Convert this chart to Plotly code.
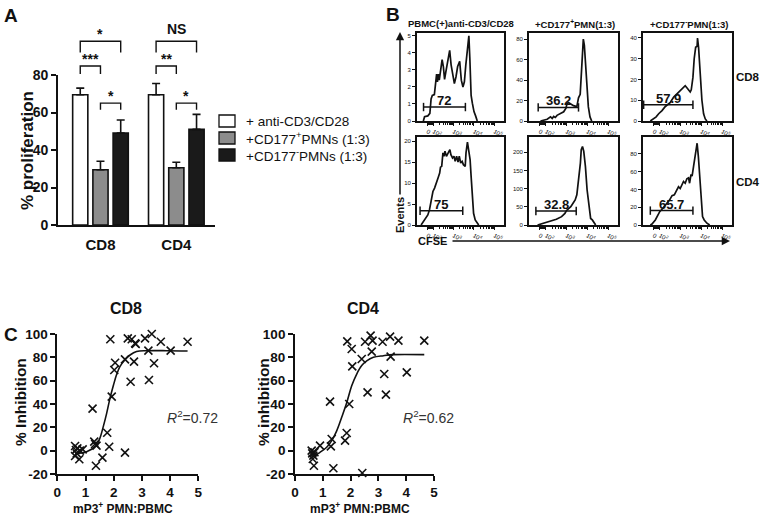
import math
import plotly.graph_objects as go

W, H = 762, 519
FONT = "Liberation Sans, Arial, Helvetica, sans-serif"


def fx(px):
    return px / W


def fy(py):
    return 1 - py / H


# ---------------- Panel A data ----------------
a_groups = ["CD8", "CD4"]
a_series = ["+ anti-CD3/CD28", "+CD177<sup>+</sup>PMNs (1:3)", "+CD177<sup>-</sup>PMNs (1:3)"]
a_colors = ["#ffffff", "#8c8c8c", "#1a1a1a"]
a_ctrl_mean = [69.5, 69.5]
a_ctrl_sem = [3.5, 6.0]
a_pos_mean = [29.5, 30.5]
a_pos_sem = [4.5, 3.0]
a_neg_mean = [49.0, 51.0]
a_neg_sem = [7.0, 8.0]
a_sig_ctrl_neg = ["*", "NS"]
a_sig_ctrl_pos = ["***", "**"]
a_sig_pos_neg = ["*", "*"]
a_yticks = [0, 20, 40, 60, 80]

# ---------------- Panel B data (CFSE histograms) ----------------
b_col_titles = ["PBMC(+)anti-CD3/CD28", "+CD177<sup>+</sup>PMN(1:3)", "+CD177<sup>-</sup>PMN(1:3)"]
b_row_titles = ["CD8", "CD4"]
b_xtick_vals = [1.72, 2.02, 3, 4, 5]
b_xtick_text = ["0", "10<sup>2</sup>", "10<sup>3</sup>", "10<sup>4</sup>", "10<sup>5</sup>"]

cd8_pbmc_x = [1.52, 1.58, 1.74, 1.84, 1.90, 1.96, 2.06, 2.12, 2.17, 2.21, 2.26, 2.30, 2.35, 2.44, 2.50, 2.56,
              2.64, 2.72, 2.81, 2.88, 2.96, 3.04, 3.12, 3.20, 3.30, 3.38, 3.46, 3.53, 3.60, 3.68, 3.75, 3.80,
              3.86, 3.92, 4.00, 4.08, 4.16]
cd8_pbmc_y = [0, 0.25, 0.3, 0.45, 1.3, 1.5, 1.55, 2.1, 2.75, 2.3, 2.75, 2.4, 2.9, 3.6, 3.2, 2.45,
              3.0, 3.6, 4.15, 3.3, 2.7, 2.2, 2.6, 3.2, 3.5, 2.4, 2.0, 2.3, 3.3, 4.3, 5.0, 3.6,
              1.5, 1.05, 0.55, 0.3, 0]
cd8_pos_x = [1.76, 2.08, 2.24, 2.32, 2.39, 2.47, 2.55, 2.71, 2.87, 2.98, 3.03, 3.10, 3.18, 3.34, 3.50, 3.58,
             3.66, 3.71, 3.75, 3.81, 3.86, 3.93, 3.97, 4.05, 4.13, 4.21]
cd8_pos_y = [0, 1.7, 4, 2.5, 4.5, 3.5, 5.5, 7, 9, 12.6, 17, 18, 17, 15, 14, 22.6,
             26, 41, 61, 80, 74, 51, 34, 14, 4, 0]
cd8_neg_x = [1.56, 1.72, 1.84, 1.96, 2.12, 2.28, 2.52, 2.68, 2.84, 2.99, 3.15, 3.23, 3.31, 3.39, 3.47, 3.52,
             3.60, 3.66, 3.73, 3.80, 3.82, 3.87, 3.95, 4.03, 4.11, 4.19, 4.27]
cd8_neg_y = [0, 1.1, 2, 3.5, 5, 7, 9, 11.5, 13, 14.7, 16, 17, 16, 15, 14, 15,
             21, 30, 35.5, 36, 40, 35.5, 21, 10, 3.5, 1, 0]
cd4_pbmc_x = [1.41, 1.57, 1.66, 1.74, 1.82, 1.90, 1.99, 2.07, 2.16, 2.24, 2.32, 2.36, 2.42, 2.48, 2.53, 2.58,
              2.65, 2.74, 2.82, 2.87, 2.95, 3.02, 3.08, 3.15, 3.22, 3.28, 3.35, 3.42, 3.48, 3.57, 3.61, 3.68,
              3.75, 3.81, 3.86, 3.91, 3.98, 4.06, 4.15, 4.23]
cd4_pbmc_y = [0, 1.2, 2, 2.4, 3.6, 6, 8, 8.8, 10.4, 11.2, 12.4, 13.8, 14, 17.2, 16.4, 17.6,
              16.4, 17.2, 18, 16.8, 16, 16.4, 15.2, 16.4, 15, 16.4, 14.8, 15.2, 14.4, 14, 17.2, 19.8,
              18, 15.6, 11.6, 6.8, 2.8, 1.2, 0.4, 0]
cd4_pos_x = [1.62, 1.86, 2.19, 2.52, 2.77, 2.93, 3.01, 3.13, 3.21, 3.34, 3.42, 3.50, 3.59, 3.67, 3.71, 3.77,
             3.83, 3.91, 3.99, 4.08, 4.16, 4.24, 4.32, 4.40]
cd4_pos_y = [0, 4.6, 9, 15.6, 23, 32, 40, 46, 50.6, 62, 69, 83, 124, 170, 207, 216,
             203, 161, 97, 51, 18, 14, 6, 0]
cd4_neg_x = [1.56, 1.64, 1.80, 1.91, 2.01, 2.12, 2.23, 2.36, 2.48, 2.60, 2.71, 2.80, 2.91, 2.99, 3.08, 3.15,
             3.23, 3.31, 3.39, 3.44, 3.51, 3.56, 3.63, 3.71, 3.80, 3.86, 3.92, 3.99, 4.06, 4.14, 4.27, 4.40]
cd4_neg_y = [0, 1, 5.7, 11, 15, 17.7, 20.8, 24.5, 28, 33, 34, 38, 43, 41, 45, 49,
             47, 52, 53, 47, 57, 55, 66, 81, 92, 77, 55, 24.5, 9.4, 5.7, 2, 0]

b_gate_pct = ["72", "36.2", "57.9", "75", "32.8", "65.7"]
b_gate_x0 = [1.53, 1.65, 1.24, 1.36, 1.54, 1.56]
b_gate_x1 = [3.58, 3.58, 3.60, 3.45, 3.47, 3.60]
b_gate_y = [0.82, 13.3, 7.8, 3.4, 38.7, 16.2]
b_ymax = [5.17, 86, 42.4, 21, 242, 99]
b_yticks = [[0, 1, 2, 3, 4, 5], [0, 20, 40, 60, 80], [0, 10, 20, 30, 40],
            [0, 5, 10, 15, 20], [0, 50, 100, 150, 200], [0, 20, 40, 60, 80]]

# ---------------- Panel C data ----------------
c8_x = [1.88, 2.50, 2.64, 2.76, 2.78, 3.11, 3.35, 3.67, 4.62, 3.23, 4.02, 2.05, 2.02, 2.40, 2.72, 2.60,
        3.25, 3.43, 1.93, 1.25, 1.77, 1.84, 1.31, 1.34, 1.39, 2.40, 1.60, 1.37, 0.63, 0.66, 0.69, 0.63,
        0.78, 0.90, 0.80, 0.71]
c8_y = [95.5, 96.3, 95.5, 92, 91.4, 96.3, 100, 93.4, 93.4, 85.7, 85.7, 75.4, 69.1, 78.3, 76.3, 59.1,
        60.6, 74.9, 46.3, 36, 15.4, 3.4, 7.7, 5.7, 4.3, -1.7, -6, -12.9, 4, 0.6, -2.3, -4.6,
        -7.4, 1.1, 0, 2]
c8_fit_x = [0.63, 1.04, 1.39, 1.51, 1.63, 1.75, 1.87, 1.99, 2.10, 2.22, 2.40, 2.58, 2.81, 3.17, 3.88, 4.62]
c8_fit_y = [-2.3, -0.9, 4.9, 10.6, 20.6, 32, 45, 56, 65, 72, 78, 82, 85, 85.7, 85.7, 85.4]

c4_x = [1.88, 2.04, 2.52, 2.72, 2.79, 2.76, 3.15, 3.42, 3.72, 4.65, 2.40, 2.06, 3.44, 3.21, 4.02, 2.61,
        3.27, 1.95, 1.26, 1.86, 1.80, 1.32, 1.29, 0.90, 0.60, 0.62, 0.66, 0.64, 0.68, 1.38, 2.42, 0.70]
c4_y = [93.7, 87.1, 93.4, 98.6, 94.3, 84.9, 93.4, 97.7, 94.3, 94.3, 78.6, 72.3, 80.6, 65.7, 67.1, 50,
        48, 40, 42, 15.1, 8.6, 10, 3.7, 4.3, 0, -2.3, -4.3, -7.1, -12.9, -15.1, -19.1, -1.4]
c4_fit_x = [0.6, 0.9, 1.14, 1.32, 1.5, 1.68, 1.86, 2.04, 2.22, 2.40, 2.58, 2.82, 3.18, 3.54, 4.65]
c4_fit_y = [-5.7, -1.4, 2.9, 8.6, 17, 28.6, 41, 55.7, 65.7, 72.9, 77, 80, 81.4, 82.3, 82.3]
c_r2 = ["0.72", "0.62"]
c_xticks = [0, 1, 2, 3, 4, 5]
c_yticks = [-20, 0, 20, 40, 60, 80, 100]

# ================= build figure =================
fig = go.Figure()
annotations = []
shapes = []

BLACK = "#111111"


def bold(vals):
    return [f"<b>{v}</b>" for v in vals]


def paper_text(px, py, text, size, angle=0, xanchor="center", color=BLACK):
    annotations.append(dict(x=fx(px), y=fy(py), xref="paper", yref="paper", text=text, showarrow=False,
                            xanchor=xanchor, yanchor="middle", textangle=angle,
                            font=dict(family=FONT, size=size, color=color)))


# ---- Panel A ----
BARGAP = 0.2
slot = (1 - BARGAP) / 3
offsets = [-slot, 0.0, slot]
a_x = list(range(len(a_groups)))
for name, mean, sem, color in zip(a_series,
                                  [a_ctrl_mean, a_pos_mean, a_neg_mean],
                                  [a_ctrl_sem, a_pos_sem, a_neg_sem],
                                  a_colors):
    fig.add_trace(go.Bar(
        x=a_x, y=mean, name=name, xaxis="x", yaxis="y", showlegend=False,
        marker=dict(color=color, line=dict(color=BLACK, width=1.6)),
        error_y=dict(type="data", array=sem, arrayminus=[0] * len(sem), symmetric=False,
                     color=BLACK, thickness=1.6, width=4),
        hoverinfo="skip"))

# significance brackets (y2 shares the same scale as y, extended upward)
bracket_specs = [  # (from bar idx, to bar idx, top, leg, labels)
    (0, 2, 98.0, 92.0, a_sig_ctrl_neg),
    (0, 1, 84.8, 80.5, a_sig_ctrl_pos),
    (1, 2, 65.0, 61.5, a_sig_pos_neg),
]
for gi, g in enumerate(a_x):
    for i0, i1, top, leg, labels in bracket_specs:
        x0 = g + offsets[i0]
        x1 = g + offsets[i1]
        fig.add_trace(go.Scatter(x=[x0, x0, x1, x1], y=[leg, top, top, leg], mode="lines",
                                 line=dict(color=BLACK, width=1.4), xaxis="x", yaxis="y2",
                                 showlegend=False, hoverinfo="skip"))
        lab = labels[gi]
        annotations.append(dict(x=(x0 + x1) / 2, y=top, xref="x", yref="y2", text=f"<b>{lab}</b>",
                                showarrow=False, xanchor="center", yanchor="bottom",
                                yshift=(-3 if "*" in lab else 2),
                                font=dict(family=FONT, size=14, color=BLACK)))

# custom legend for panel A
for idx, (name, color) in enumerate(zip(a_series, a_colors)):
    cy = 121 + 17 * idx
    shapes.append(dict(type="rect", xref="paper", yref="paper", x0=fx(219), x1=fx(235),
                       y0=fy(cy + 6), y1=fy(cy - 6), fillcolor=color, line=dict(color=BLACK, width=1.3)))
    paper_text(244, cy, name, 13.5, xanchor="left")

# ---- Panel B ----
b_cols_px = [(417, 504), (529, 618), (643, 732)]
b_rows_py = [(33, 121), (137, 225)]
b_curves = [(cd8_pbmc_x, cd8_pbmc_y), (cd8_pos_x, cd8_pos_y), (cd8_neg_x, cd8_neg_y),
            (cd4_pbmc_x, cd4_pbmc_y), (cd4_pos_x, cd4_pos_y), (cd4_neg_x, cd4_neg_y)]
minor_vals = []
for k in range(2, 10):
    minor_vals.append(2.02 + (3 - 2.02) * math.log10(k))
    minor_vals.append(3 + math.log10(k))
    minor_vals.append(4 + math.log10(k))
    minor_vals.append(1.72 + (2.02 - 1.72) * (k - 1) / 9)

axes_layout = {}
for i in range(6):
    r, c = divmod(i, 3)
    k = 3 + i
    xa, ya = f"x{k}", f"y{k}"
    cx, cy = b_curves[i]
    fig.add_trace(go.Scatter(x=cx, y=cy, mode="lines", line=dict(color=BLACK, width=1.7),
                             xaxis=xa, yaxis=ya, showlegend=False, hoverinfo="skip"))
    fig.add_trace(go.Scatter(x=[b_gate_x0[i], b_gate_x1[i]], y=[b_gate_y[i], b_gate_y[i]],
                             mode="lines+markers", line=dict(color=BLACK, width=1.5),
                             marker=dict(symbol="line-ns", size=6, line=dict(color=BLACK, width=1.5)),
                             xaxis=xa, yaxis=ya, showlegend=False, hoverinfo="skip"))
    annotations.append(dict(x=(b_gate_x0[i] + b_gate_x1[i]) / 2, y=b_gate_y[i], xref=xa, yref=ya,
                            text=f"<b>{b_gate_pct[i]}</b>", showarrow=False, xanchor="center",
                            yanchor="bottom", yshift=-3,
                            font=dict(family=FONT, size=13, color=BLACK)))
    l, rr = b_cols_px[c]
    t, b = b_rows_py[r]
    axes_layout[f"xaxis{k}"] = dict(
        domain=[fx(l), fx(rr)], anchor=ya, range=[1.21, 5.47], showline=True, mirror=True,
        automargin=False,
        linecolor=BLACK, linewidth=1.8, showgrid=False, zeroline=False, ticks="outside", ticklen=3,
        tickwidth=1, tickcolor=BLACK, tickvals=b_xtick_vals, ticktext=b_xtick_text,
        tickfont=dict(family=FONT, size=6, color=BLACK),
        minor=dict(tickvals=minor_vals, ticks="outside", ticklen=2, tickwidth=0.8, tickcolor=BLACK))
    axes_layout[f"yaxis{k}"] = dict(
        domain=[fy(b), fy(t)], anchor=xa, range=[0, b_ymax[i]], showline=True, mirror=True,
        automargin=False,
        linecolor=BLACK, linewidth=1.8, showgrid=False, zeroline=False, ticks="outside", ticklen=3,
        tickwidth=1, tickcolor=BLACK, tickvals=b_yticks[i],
        tickfont=dict(family=FONT, size=6, color=BLACK))

col_centers = [461, 575, 689]
for cc, title in zip(col_centers, b_col_titles):
    paper_text(cc, 24, f"<b>{title}</b>", 9.5)
for py, title in zip([77, 182], b_row_titles):
    paper_text(748, py, f"<b>{title}</b>", 11.5)
annotations.append(dict(x=fx(400), y=fy(32), ax=0, ay=196 - 32, xref="paper", yref="paper",
                        showarrow=True, arrowhead=2, arrowsize=1.1,
                        arrowwidth=1.5, arrowcolor=BLACK, text=""))
annotations.append(dict(x=fx(730), y=fy(241), ax=-(730 - 451), ay=0, xref="paper", yref="paper",
                        showarrow=True, arrowhead=2, arrowsize=1.1,
                        arrowwidth=1.5, arrowcolor=BLACK, text=""))
paper_text(400, 215, "<b>Events</b>", 11, angle=-90)
paper_text(432, 241, "<b>CFSE</b>", 11)

# ---- Panel C ----
c_sets = [(c8_x, c8_y, c8_fit_x, c8_fit_y), (c4_x, c4_y, c4_fit_x, c4_fit_y)]
c_x_px = [(57.3, 198.3), (295, 434)]
c_titles = ["CD8", "CD4"]
c_ytitles = ["% Inhibition", "% inhibition"]
c_ytitle_px = [20, 263]
c_r2_pos = [(4.78, 29), (4.8, 29)]
for j in range(2):
    k = 9 + j
    xa, ya = f"x{k}", f"y{k}"
    px_, py_, fx_, fy_ = c_sets[j]
    fig.add_trace(go.Scatter(x=fx_, y=fy_, mode="lines", line=dict(color=BLACK, width=1.6, shape="spline"),
                             xaxis=xa, yaxis=ya, showlegend=False, hoverinfo="skip"))
    fig.add_trace(go.Scatter(x=px_, y=py_, mode="markers", cliponaxis=False,
                             marker=dict(symbol="x-thin", size=8, color=BLACK, line=dict(color=BLACK, width=1.6)),
                             xaxis=xa, yaxis=ya, showlegend=False, hoverinfo="skip"))
    l, rr = c_x_px[j]
    axes_layout[f"xaxis{k}"] = dict(
        domain=[fx(l), fx(rr)], anchor=ya, range=[0, 5], showline=True, linecolor=BLACK, linewidth=1.8,
        automargin=False,
        showgrid=False, zeroline=False, ticks="outside", ticklen=5, tickwidth=1.8, tickcolor=BLACK,
        tickvals=c_xticks, ticktext=bold(c_xticks), tickfont=dict(family=FONT, size=13.5, color=BLACK))
    axes_layout[f"yaxis{k}"] = dict(
        domain=[fy(474), fy(334)], anchor=xa, range=[-20, 100], showline=True, linecolor=BLACK,
        automargin=False,
        linewidth=1.8, showgrid=False, zeroline=False, ticks="outside", ticklen=5, tickwidth=1.8,
        tickcolor=BLACK, tickvals=c_yticks, ticktext=bold(c_yticks),
        tickfont=dict(family=FONT, size=13.5, color=BLACK))
    cxm = (l + rr) / 2
    paper_text(cxm - 2, 308, f"<b>{c_titles[j]}</b>", 16)
    paper_text(c_ytitle_px[j], 402, f"<b>{c_ytitles[j]}</b>", 15.5, angle=-90)
    paper_text(cxm - 5, 508, "<b>mP3<sup>+</sup> PMN:PBMC</b>", 12)
    annotations.append(dict(x=c_r2_pos[j][0], y=c_r2_pos[j][1], xref=xa, yref=ya,
                            text=f"<i>R</i><sup>2</sup>={c_r2[j]}",
                            showarrow=False, xanchor="center", yanchor="middle",
                            font=dict(family=FONT, size=14, color="#333333")))

# ---- Panel letters & A titles ----
for letter, (px, py) in zip("ABC", [(11, 16), (393, 14), (11, 334)]):
    paper_text(px, py, f"<b>{letter}</b>", 19)
paper_text(27, 151, "<b>% proliferation</b>", 17, angle=-90)

fig.update_layout(
    width=W, height=H, autosize=False,
    margin=dict(l=0, r=0, t=0, b=0, pad=0, autoexpand=False),
    paper_bgcolor="white", plot_bgcolor="rgba(0,0,0,0)",
    barmode="group", bargap=BARGAP, bargroupgap=0.25,
    showlegend=False,
    xaxis=dict(domain=[fx(58), fx(215)], anchor="y", range=[-0.56, 1.51], showline=True, linecolor=BLACK,
               automargin=False,
               linewidth=1.8, showgrid=False, zeroline=False, ticks="", tickvals=a_x, ticktext=bold(a_groups),
               ticklabelstandoff=5, tickfont=dict(family=FONT, size=15, color=BLACK)),
    yaxis=dict(domain=[fy(225), fy(75)], anchor="x", range=[0, 80], showline=True, linecolor=BLACK,
               automargin=False,
               linewidth=1.8, showgrid=False, zeroline=False, ticks="outside", ticklen=5, tickwidth=1.8,
               tickcolor=BLACK, tickvals=a_yticks, ticktext=bold(a_yticks),
               tickfont=dict(family=FONT, size=14, color=BLACK)),
    yaxis2=dict(domain=[fy(225), fy(25)], anchor="x", range=[0, 200 / 1.875], visible=False,
                automargin=False),
    annotations=annotations,
    shapes=shapes,
    font=dict(family=FONT, color=BLACK),
)
fig.update_layout(**axes_layout)

fig.write_html("out.html", config={"displayModeBar": False},
               post_script="document.body.style.margin='0';")
